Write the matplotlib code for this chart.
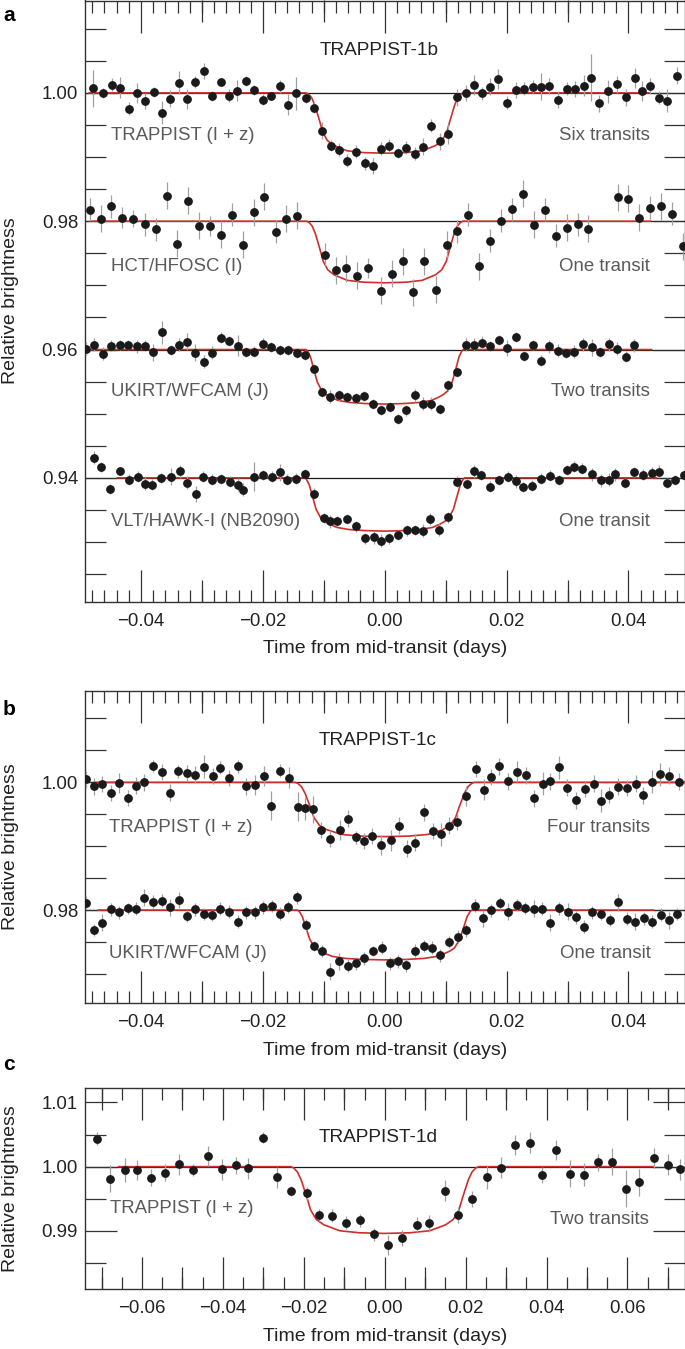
import numpy as np
import matplotlib
matplotlib.use("Agg")
import matplotlib.pyplot as plt
from matplotlib.ticker import MultipleLocator, FuncFormatter

plt.rcParams['font.family'] = ['Liberation Sans', 'DejaVu Sans']

# ---------------- data ----------------
# panel a, TRAPPIST-1b
b_trap_x = [-0.04784, -0.04626, -0.04484, -0.04348, -0.04200, -0.04063, -0.03943, -0.03790, -0.03658, -0.03527,
            -0.03374, -0.03243, -0.03112, -0.02970, -0.02828, -0.02686, -0.02549, -0.02423, -0.02281, -0.02139,
            -0.02003, -0.01861, -0.01713, -0.01582, -0.01451, -0.01298, -0.01156, -0.01025, -0.00883, -0.00752,
            -0.00615, -0.00473, -0.00331, -0.00200, -0.00063, 0.00068, 0.00216, 0.00352, 0.00489, 0.00620,
            0.00757, 0.00899, 0.01046, 0.01194, 0.01331, 0.01467, 0.01593, 0.01730, 0.01861, 0.02008,
            0.02150, 0.02287, 0.02429, 0.02566, 0.02697, 0.02839, 0.02986, 0.03128, 0.03265, 0.03385,
            0.03522, 0.03669, 0.03811, 0.03959, 0.04107, 0.04221, 0.04352, 0.04500, 0.04637, 0.04790]
b_trap_y = [1.00073, 1.00000, 1.00125, 1.00083, 0.99751, 1.00000, 0.99875, 1.00010, 0.99688, 0.99912,
            1.00161, 0.99906, 1.00171, 1.00343, 0.99948, 1.00171, 0.99958, 1.00036, 1.00187, 1.00047,
            0.99896, 0.99948, 1.00104, 0.99818, 0.99995, 0.99922, 0.99771, 0.99413, 0.99179, 0.99117,
            0.98945, 0.99086, 0.98904, 0.98862, 0.99132, 0.99174, 0.99065, 0.99143, 0.99049, 0.99164,
            0.99491, 0.99247, 0.99361, 0.99932, 1.00000, 1.00125, 0.99995, 1.00099, 1.00218, 0.99849,
            1.00047, 1.00062, 1.00099, 1.00099, 1.00109, 0.99896, 1.00062, 1.00062, 1.00114, 1.00239,
            0.99839, 1.00026, 1.00135, 0.99932, 1.00234, 1.00026, 1.00109, 0.99922, 0.99875, 1.00270]
b_trap_err = [2.9, 0.8, 1.0, 1.6, 1.0, 1.6, 1.3, 0.8, 1.8, 1.3, 1.8, 1.6, 1.0, 1.3, 0.8, 0.6, 1.0, 1.6,
              0.8, 0.8, 0.8, 0.6, 1.0, 1.6, 2.6, 0.8, 0.8, 1.3, 0.8, 1.0, 1.0, 1.0, 1.0, 1.3, 1.0, 1.0,
              0.8, 1.0, 1.0, 1.3, 1.0, 1.3, 1.6, 1.3, 1.3, 1.6, 1.0, 1.3, 1.6, 1.0, 1.3, 1.0, 1.0, 2.1,
              1.3, 1.3, 1.0, 1.3, 1.6, 3.6, 1.3, 1.8, 1.3, 1.3, 1.6, 1.6, 1.3, 1.0, 1.8, 1.3]

b_hct_x = [-0.04839, -0.04664, -0.04489, -0.04309, -0.04134, -0.03937, -0.03757, -0.03582, -0.03407, -0.03232,
           -0.03041, -0.02861, -0.02686, -0.02511, -0.02331, -0.02151, -0.01975, -0.01790, -0.01615, -0.01440,
           -0.00975, -0.00806, -0.00631, -0.00456, -0.00281, -0.00063, 0.00117, 0.00292, 0.00462, 0.00637,
           0.00844, 0.01019, 0.01194, 0.01369, 0.01549, 0.01730, 0.01910, 0.02090, 0.02265, 0.02445,
           0.02631, 0.02812, 0.02992, 0.03167, 0.03342, 0.03822, 0.03997, 0.04172, 0.04352, 0.04527,
           0.04718, 0.04888]
b_hct_y = [0.98177, 0.98036, 0.98234, 0.98057, 0.98042, 0.97953, 0.97875, 0.98400, 0.97647, 0.98317,
           0.97932, 0.97922, 0.97787, 0.98099, 0.97631, 0.98140, 0.98379, 0.97834, 0.98036, 0.98083,
           0.97475, 0.97236, 0.97268, 0.97148, 0.97268, 0.96919, 0.97179, 0.97377, 0.96894, 0.97377,
           0.96935, 0.97636, 0.97844, 0.98099, 0.97299, 0.97694, 0.98005, 0.98187, 0.98426, 0.97943,
           0.98177, 0.97777, 0.97901, 0.97953, 0.97886, 0.98374, 0.98348, 0.98057, 0.98208, 0.98234,
           0.98119, 0.97610]
b_hct_err = [1.8, 2.1, 1.8, 1.6, 1.3, 1.8, 1.8, 2.1, 2.1, 2.1, 2.1, 1.6, 2.1, 1.8, 2.1, 2.1, 2.1, 1.8,
             2.1, 2.1, 1.8, 2.1, 2.1, 2.1, 1.6, 2.1, 2.1, 2.1, 2.1, 2.1, 2.1, 2.1, 1.8, 1.8, 2.1, 1.8,
             1.8, 1.8, 2.1, 2.1, 1.8, 1.8, 2.1, 1.8, 2.1, 2.1, 2.1, 2.1, 1.8, 2.1, 1.8, 2.1]

b_ukirt_x = [-0.04910, -0.04773, -0.04631, -0.04489, -0.04352, -0.04216, -0.04074, -0.03943, -0.03801, -0.03658,
             -0.03516, -0.03385, -0.03243, -0.03107, -0.02970, -0.02828, -0.02686, -0.02549, -0.02413, -0.02276,
             -0.02139, -0.01997, -0.01861, -0.01724, -0.01587, -0.01445, -0.01309, -0.01167, -0.01025, -0.00893,
             -0.00751, -0.00615, -0.00478, -0.00342, -0.00200, -0.00058, 0.00079, 0.00216, 0.00352, 0.00489,
             0.00626, 0.00762, 0.00899, 0.01046, 0.01183, 0.01331, 0.01467, 0.01604, 0.01735, 0.01872,
             0.02014, 0.02150, 0.02287, 0.02429, 0.02566, 0.02702, 0.02839, 0.02970, 0.03112, 0.03259,
             0.03402, 0.03533, 0.03675, 0.03811, 0.03953, 0.04090]
b_ukirt_y = [0.96010, 0.96073, 0.95938, 0.96062, 0.96067, 0.96073, 0.96052, 0.96062, 0.95959, 0.96269,
             0.95990, 0.96073, 0.96124, 0.95953, 0.95808, 0.95953, 0.96187, 0.96135, 0.96062, 0.95964,
             0.95969, 0.96093, 0.96036, 0.95995, 0.95990, 0.95943, 0.95912, 0.95694, 0.95342, 0.95264,
             0.95285, 0.95264, 0.95238, 0.95275, 0.95150, 0.95062, 0.95109, 0.94922, 0.95052, 0.95290,
             0.95155, 0.95155, 0.95078, 0.95440, 0.95648, 0.96073, 0.96078, 0.96109, 0.96052, 0.96150,
             0.96026, 0.96197, 0.95896, 0.96073, 0.95829, 0.96052, 0.95984, 0.95943, 0.95969, 0.96083,
             0.96036, 0.95959, 0.96083, 0.96010, 0.95891, 0.96067]
b_ukirt_err = [1.0, 1.0, 1.0, 0.8, 0.8, 0.8, 1.0, 0.8, 1.3, 1.8, 0.8, 1.0, 1.3, 1.3, 1.0, 1.0, 0.8, 0.8,
               1.6, 0.8, 0.8, 0.8, 0.8, 0.8, 0.8, 0.8, 0.8, 0.8, 0.8, 1.0, 0.8, 0.8, 0.8, 0.8, 0.8, 0.8,
               0.8, 0.8, 0.8, 1.0, 1.0, 1.0, 0.8, 0.8, 0.8, 1.0, 1.0, 1.0, 0.8, 0.8, 1.3, 0.8, 0.8, 0.8,
               0.8, 1.0, 1.0, 0.8, 1.0, 1.0, 1.3, 0.8, 1.0, 1.0, 0.8, 1.0]

b_vlt_x = [-0.04773, -0.04653, -0.04505, -0.04352, -0.04199, -0.04052, -0.03937, -0.03822, -0.03669, -0.03516,
           -0.03363, -0.03243, -0.03096, -0.02981, -0.02828, -0.02686, -0.02533, -0.02413, -0.02331, -0.02151,
           -0.01997, -0.01844, -0.01724, -0.01604, -0.01462, -0.01309, -0.01156, -0.01003, -0.00893, -0.00784,
           -0.00620, -0.00478, -0.00325, -0.00178, -0.00058, 0.00068, 0.00210, 0.00363, 0.00500, 0.00626,
           0.00746, 0.00893, 0.01046, 0.01194, 0.01347, 0.01467, 0.01582, 0.01735, 0.01877, 0.02025,
           0.02150, 0.02265, 0.02413, 0.02566, 0.02713, 0.02866, 0.02986, 0.03112, 0.03243, 0.03402,
           0.03544, 0.03675, 0.03784, 0.03943, 0.04090, 0.04243, 0.04380, 0.04505, 0.04626, 0.04768, 0.04910]
b_vlt_y = [0.94316, 0.94171, 0.93824, 0.94104, 0.93974, 0.94021, 0.93907, 0.93896, 0.94000, 0.94021,
           0.94104, 0.93922, 0.93751, 0.94021, 0.93974, 0.93979, 0.93943, 0.93896, 0.93813, 0.94021,
           0.94047, 0.94021, 0.94088, 0.93974, 0.93990, 0.94062, 0.93756, 0.93373, 0.93326, 0.93326,
           0.93358, 0.93244, 0.93057, 0.93073, 0.93021, 0.93057, 0.93114, 0.93181, 0.93192, 0.93176,
           0.93358, 0.93192, 0.93383, 0.93943, 0.93907, 0.94104, 0.94047, 0.93865, 0.93964, 0.94021,
           0.93948, 0.93855, 0.93881, 0.93990, 0.94036, 0.93964, 0.94119, 0.94176, 0.94145, 0.94057,
           0.93959, 0.93969, 0.94057, 0.93917, 0.94088, 0.94052, 0.94083, 0.94093, 0.93917, 0.93969, 0.94047]
b_vlt_err = [1.0, 0.8, 0.8, 0.6, 0.8, 0.8, 1.0, 0.8, 0.8, 1.3, 1.0, 1.0, 1.3, 0.8, 0.8, 0.8, 0.8, 1.0,
             1.0, 2.3, 0.8, 0.8, 1.3, 0.8, 0.8, 0.8, 0.8, 0.8, 1.0, 0.8, 0.8, 0.8, 0.8, 1.0, 1.0, 0.8,
             0.8, 0.8, 0.8, 1.0, 1.0, 1.0, 0.8, 0.8, 0.8, 1.0, 0.8, 0.8, 0.8, 0.8, 1.0, 0.8, 0.8, 0.8,
             0.8, 0.8, 0.8, 0.8, 0.8, 1.0, 1.0, 1.0, 1.0, 0.8, 0.8, 0.8, 0.8, 1.0, 0.8, 0.8, 0.8]

# panel b, TRAPPIST-1c
c_trap_x = [-0.04910, -0.04773, -0.04636, -0.04493, -0.04356, -0.04219, -0.04082, -0.03945, -0.03808, -0.03655,
            -0.03518, -0.03392, -0.03249, -0.03107, -0.02964, -0.02816, -0.02696, -0.02559, -0.02416, -0.02274,
            -0.02132, -0.01978, -0.01868, -0.01726, -0.01573, -0.01425, -0.01304, -0.01178, -0.01041, -0.00893,
            -0.00740, -0.00608, -0.00477, -0.00345, -0.00203, -0.00055, 0.00099, 0.00236, 0.00367, 0.00504,
            0.00641, 0.00784, 0.00921, 0.01052, 0.01189, 0.01326, 0.01490, 0.01622, 0.01748, 0.01874,
            0.02016, 0.02164, 0.02312, 0.02455, 0.02592, 0.02712, 0.02860, 0.02992, 0.03140, 0.03288,
            0.03430, 0.03545, 0.03677, 0.03830, 0.03978, 0.04121, 0.04247, 0.04384, 0.04521, 0.04663, 0.04822]
c_trap_y = [1.00047, 0.99937, 0.99974, 0.99833, 0.99990, 0.99755, 0.99948, 1.00000, 1.00256, 1.00162,
            0.99838, 1.00172, 1.00146, 1.00120, 1.00245, 1.00099, 1.00230, 1.00068, 1.00251, 0.99937,
            0.99958, 1.00099, 0.99634, 1.00183, 1.00073, 0.99619, 0.99598, 0.99577, 0.99253, 0.99117,
            0.99253, 0.99431, 0.99138, 0.99081, 0.99159, 0.99018, 0.99091, 0.99321, 0.98961, 0.99055,
            0.99530, 0.99238, 0.99191, 0.99321, 0.99384, 0.99786, 1.00209, 0.99885, 1.00084, 1.00251,
            1.00016, 1.00167, 1.00110, 0.99749, 0.99979, 1.00016, 1.00235, 0.99916, 0.99718, 0.99896,
            0.99979, 0.99708, 0.99802, 0.99932, 0.99911, 0.99979, 0.99796, 1.00010, 1.00125, 1.00104, 1.00010]
c_trap_err = [1.3, 1.3, 1.3, 1.3, 1.6, 1.3, 1.3, 1.3, 1.0, 1.3, 1.3, 1.0, 1.3, 1.3, 1.8, 1.3, 1.0, 1.3,
              1.0, 1.3, 1.6, 1.6, 2.3, 1.0, 1.6, 2.3, 1.8, 2.1, 1.3, 1.3, 1.6, 1.3, 1.0, 1.3, 1.3, 1.6,
              1.6, 1.3, 1.3, 1.3, 1.3, 1.3, 1.8, 1.3, 1.3, 1.6, 1.3, 1.6, 1.3, 1.3, 1.3, 1.6, 1.3, 1.3,
              1.8, 1.3, 1.8, 1.3, 1.3, 1.3, 1.3, 1.8, 1.3, 1.3, 1.3, 1.3, 1.3, 1.8, 1.8, 1.3, 1.3]

c_ukirt_x = [-0.04904, -0.04767, -0.04636, -0.04493, -0.04356, -0.04219, -0.04082, -0.03945, -0.03808, -0.03655,
             -0.03518, -0.03381, -0.03244, -0.03107, -0.02970, -0.02838, -0.02696, -0.02559, -0.02416, -0.02274,
             -0.02132, -0.01995, -0.01858, -0.01715, -0.01584, -0.01441, -0.01293, -0.01167, -0.01036, -0.00893,
             -0.00751, -0.00608, -0.00477, -0.00334, -0.00192, -0.00049, 0.00082, 0.00219, 0.00356, 0.00493,
             0.00641, 0.00778, 0.00915, 0.01058, 0.01195, 0.01332, 0.01479, 0.01611, 0.01742, 0.01890,
             0.02027, 0.02164, 0.02307, 0.02444, 0.02586, 0.02718, 0.02860, 0.03003, 0.03140, 0.03277,
             0.03408, 0.03545, 0.03693, 0.03830, 0.03973, 0.04110, 0.04252, 0.04389, 0.04532, 0.04663, 0.04800]
c_ukirt_y = [0.98115, 0.97687, 0.97802, 0.98010, 0.97963, 0.98026, 0.98021, 0.98193, 0.98131, 0.98146,
             0.98042, 0.98157, 0.97906, 0.98010, 0.97937, 0.97916, 0.98021, 0.97974, 0.97817, 0.97963,
             0.97963, 0.98042, 0.98063, 0.97943, 0.98047, 0.98198, 0.97765, 0.97441, 0.97358, 0.97034,
             0.97196, 0.97128, 0.97164, 0.97243, 0.97358, 0.97410, 0.97164, 0.97201, 0.97138, 0.97363,
             0.97436, 0.97410, 0.97295, 0.97499, 0.97582, 0.97681, 0.98068, 0.97869, 0.97995, 0.98104,
             0.97974, 0.98078, 0.98031, 0.98021, 0.98021, 0.97802, 0.98026, 0.97974, 0.97885, 0.97739,
             0.97963, 0.97937, 0.97843, 0.98120, 0.97864, 0.97817, 0.97869, 0.97817, 0.97927, 0.97838, 0.97937]
c_ukirt_err = [1.0, 1.0, 1.3, 1.0, 1.0, 0.8, 1.0, 1.3, 1.0, 1.0, 1.3, 1.3, 1.0, 1.0, 1.0, 0.8, 1.0, 1.0,
               1.0, 1.0, 1.0, 1.0, 1.0, 1.0, 1.0, 1.0, 1.0, 0.8, 1.0, 1.3, 1.3, 1.0, 1.0, 1.0, 0.8, 1.0,
               1.0, 1.0, 1.0, 1.0, 1.0, 1.0, 1.0, 1.0, 1.0, 1.0, 1.0, 1.3, 1.0, 1.0, 1.3, 1.0, 1.0, 1.3,
               1.0, 1.3, 1.0, 1.3, 1.0, 1.0, 1.0, 1.0, 1.0, 1.3, 1.0, 1.3, 1.0, 1.0, 1.0, 1.3, 1.0]

# panel c, TRAPPIST-1d
d_trap_x = [-0.07119, -0.06790, -0.06428, -0.06123, -0.05778, -0.05432, -0.05086, -0.04749, -0.04362, -0.04033,
            -0.03687, -0.03374, -0.03004, -0.02675, -0.02321, -0.01934, -0.01630, -0.01292, -0.00947, -0.00601,
            -0.00255, 0.00082, 0.00436, 0.00798, 0.01095, 0.01481, 0.01811, 0.02165, 0.02527, 0.02872,
            0.03210, 0.03588, 0.03893, 0.04239, 0.04584, 0.04922, 0.05267, 0.05621, 0.05967, 0.06280,
            0.06667, 0.07012, 0.07300]
d_trap_y = [1.00436, 0.99808, 0.99948, 0.99948, 0.99829, 0.99907, 1.00036, 0.99948, 1.00166, 0.99958,
            1.00021, 0.99974, 1.00452, 0.99834, 0.99626, 0.99585, 0.99247, 0.99237, 0.99128, 0.99164,
            0.98946, 0.98780, 0.98889, 0.99091, 0.99117, 0.99626, 0.99247, 0.99496, 0.99834, 0.99984,
            1.00337, 1.00374, 0.99870, 1.00260, 0.99886, 0.99875, 1.00067, 1.00078, 0.99657, 0.99756,
            1.00135, 1.00031, 0.99958]
d_trap_err = [1.0, 2.1, 1.8, 1.6, 1.3, 1.3, 1.6, 1.0, 1.6, 1.6, 1.3, 1.6, 0.8, 1.6, 0.8, 1.0, 1.0, 1.0,
              1.0, 1.0, 1.0, 1.6, 1.3, 1.3, 1.3, 1.6, 1.3, 1.3, 1.8, 1.6, 1.6, 1.6, 1.3, 1.6, 2.1, 1.8,
              1.3, 2.1, 2.9, 2.1, 1.6, 1.6, 1.6]

# transit model shapes (fraction of depth vs fraction of half-duration)
prof_t_iz = [0.0, 0.27, 0.48, 0.65, 0.73, 0.79, 0.83, 0.86, 0.89, 0.93, 0.97, 1.0]
prof_f_iz = [1.0, 0.99, 0.96, 0.87, 0.79, 0.65, 0.46, 0.33, 0.20, 0.08, 0.02, 0.0]
prof_t_j = [0.0, 0.25, 0.45, 0.60, 0.69, 0.75, 0.80, 0.86, 0.905, 0.946, 0.98, 1.0]
prof_f_j = [1.0, 0.99, 0.97, 0.93, 0.87, 0.82, 0.76, 0.59, 0.35, 0.13, 0.03, 0.0]

# baseline, depth, half duration, start, end
model_b_trap = (1.00, 0.0094, 0.0129, -0.0485, 0.0435)
model_b_hct = (0.98, 0.0096, 0.0128, -0.0480, 0.0437)
model_b_ukirt = (0.96, 0.0085, 0.0129, -0.0483, 0.0438)
model_b_vlt = (0.94, 0.0083, 0.0131, -0.0439, 0.0446)
model_c_trap = (1.00, 0.0085, 0.0147, -0.0477, 0.0495)
model_c_ukirt = (0.98, 0.0078, 0.0143, -0.0470, 0.0441)
model_d_trap = (1.00, 0.0104, 0.0232, -0.0658, 0.0663)

W, H = 685, 1349
BLACK = '#1a1a1a'
GREY_TXT = '#5a5a5a'
RED = '#cf2e2b'
ERR_C = '#a0a0a0'
FS_LAB = 13.4   # in-plot labels and tick labels
FS_AX = 14      # axis titles


def box(left, top, right, bottom):
    return [left / W, 1 - bottom / H, (right - left) / W, (bottom - top) / H]


def model_curve(params, prof_t, prof_f):
    base, depth, half, x0, x1 = params
    t = np.asarray(prof_t)
    f = np.asarray(prof_f)
    xs = np.concatenate([[x0], -half * t[::-1], half * t[1:], [x1]])
    fs = np.concatenate([[0.0], f[::-1], f[1:], [0.0]])
    return xs, base - depth * fs


def fmt(v, pos):
    s = f"{v:.2f}"
    if s.startswith('-'):
        s = '\u2212' + s[1:]
    return s


def style_axes(ax, xlim, ylim, xmajor, xmid, xminor, ymajor, yminor):
    ax.set_xlim(*xlim)
    ax.set_ylim(*ylim)
    ax.xaxis.set_major_locator(MultipleLocator(xmajor))
    ax.xaxis.set_minor_locator(MultipleLocator(xminor))
    ax.yaxis.set_major_locator(MultipleLocator(ymajor))
    ax.yaxis.set_minor_locator(MultipleLocator(yminor))
    ax.xaxis.set_major_formatter(FuncFormatter(fmt))
    ax.yaxis.set_major_formatter(FuncFormatter(fmt))
    ax.tick_params(which='both', direction='in', top=True, right=True, color='#333333',
                   width=0.9, labelsize=FS_LAB, labelcolor='#222222')
    ax.tick_params(axis='x', which='major', length=23, pad=8)
    ax.tick_params(axis='x', which='minor', length=8.5)
    ax.tick_params(axis='y', which='major', length=23, pad=5)
    ax.tick_params(axis='y', which='minor', length=15)
    for sp in ax.spines.values():
        sp.set_linewidth(1.0)
        sp.set_color('#333333')
    # medium ticks at the odd hundredths
    lo, hi = xlim
    mids = [m for m in np.arange(-0.07, 0.0701, xmid * 2) if lo < m < hi]
    for loc in ('bottom', 'top'):
        sec = ax.secondary_xaxis(loc)
        sec.set_xticks(mids)
        sec.tick_params(direction='in', length=16, width=0.9, color='#333333',
                        labelbottom=False, labeltop=False)
        sec.spines[loc].set_visible(False)
    ax.set_ylabel('Relative brightness', fontsize=FS_AX, color='#222222')
    ax.yaxis.label.set_va('center')
    ax.yaxis.set_label_coords((11 - 85) / 599.5, 0.5)


def draw_series(ax, x, y, err, params, prof):
    base = params[0]
    ax.axhline(base, color=BLACK, lw=0.9, zorder=1)
    mx, my = model_curve(params, *prof)
    ax.plot(mx, my, color=RED, lw=1.2, zorder=2)
    ax.errorbar(x, y, yerr=np.asarray(err) * 1e-3, fmt='o', color=BLACK, ms=5.3,
                ecolor=ERR_C, elinewidth=0.9, capsize=0, zorder=3)


fig = plt.figure(figsize=(W / 100, H / 100), dpi=100)

# ---------------- panel a ----------------
ax_a = fig.add_axes(box(85, 0.5, 684.5, 601.7))
style_axes(ax_a, (-0.0492, 0.0492), (0.9207, 1.0144), 0.02, 0.01, 0.002, 0.02, 0.005)
draw_series(ax_a, b_trap_x, b_trap_y, b_trap_err, model_b_trap, (prof_t_iz, prof_f_iz))
draw_series(ax_a, b_hct_x, b_hct_y, b_hct_err, model_b_hct, (prof_t_iz, prof_f_iz))
draw_series(ax_a, b_ukirt_x, b_ukirt_y, b_ukirt_err, model_b_ukirt, (prof_t_j, prof_f_j))
draw_series(ax_a, b_vlt_x, b_vlt_y, b_vlt_err, model_b_vlt, (prof_t_j, prof_f_j))
ax_a.text(-0.001, 1.0066, 'TRAPPIST-1b', ha='center', va='center', fontsize=13.7, color='#222222')
for lab, rlab, yy in [('TRAPPIST (I + z)', 'Six transits', 0.99335),
                      ('HCT/HFOSC (I)', 'One transit', 0.97290),
                      ('UKIRT/WFCAM (J)', 'Two transits', 0.95340),
                      ('VLT/HAWK-I (NB2090)', 'One transit', 0.93320)]:
    ax_a.text(-0.0450, yy, lab, ha='left', va='center', fontsize=FS_LAB, color=GREY_TXT)
    ax_a.text(0.0435, yy, rlab, ha='right', va='center', fontsize=FS_LAB, color=GREY_TXT)
ax_a.set_xlabel('Time from mid-transit (days)', fontsize=FS_AX, color='#222222')
ax_a.xaxis.label.set_va('center')
ax_a.xaxis.set_label_coords(0.5, -46.6 / 601.2)

# ---------------- panel b ----------------
ax_b = fig.add_axes(box(85, 691, 684.5, 1002.7))
style_axes(ax_b, (-0.0492, 0.0492), (0.9655, 1.0143), 0.02, 0.01, 0.002, 0.02, 0.005)
draw_series(ax_b, c_trap_x, c_trap_y, c_trap_err, model_c_trap, (prof_t_iz, prof_f_iz))
draw_series(ax_b, c_ukirt_x, c_ukirt_y, c_ukirt_err, model_c_ukirt, (prof_t_j, prof_f_j))
ax_b.text(-0.0011, 1.0066, 'TRAPPIST-1c', ha='center', va='center', fontsize=13.7, color='#222222')
for lab, rlab, yy in [('TRAPPIST (I + z)', 'Four transits', 0.99300),
                      ('UKIRT/WFCAM (J)', 'One transit', 0.97321)]:
    ax_b.text(-0.0452, yy, lab, ha='left', va='center', fontsize=FS_LAB, color=GREY_TXT)
    ax_b.text(0.0436, yy, rlab, ha='right', va='center', fontsize=FS_LAB, color=GREY_TXT)
ax_b.set_xlabel('Time from mid-transit (days)', fontsize=FS_AX, color='#222222')
ax_b.xaxis.label.set_va('center')
ax_b.xaxis.set_label_coords(0.5, -48.0 / 311.7)

# ---------------- panel c ----------------
ax_c = fig.add_axes(box(85, 1088.3, 684.5, 1289.3))
style_axes(ax_c, (-0.0741, 0.0741), (0.9809, 1.0122), 0.02, 0.01, 0.005, 0.01, 0.005)
draw_series(ax_c, d_trap_x, d_trap_y, d_trap_err, model_d_trap, (prof_t_iz, prof_f_iz))
ax_c.text(-0.0017, 1.00458, 'TRAPPIST-1d', ha='center', va='center', fontsize=13.7, color='#222222')
ax_c.text(-0.0679, 0.99352, 'TRAPPIST (I + z)', ha='left', va='center', fontsize=FS_LAB, color=GREY_TXT)
ax_c.text(0.0654, 0.99170, 'Two transits', ha='right', va='center', fontsize=FS_LAB, color=GREY_TXT)
ax_c.set_xlabel('Time from mid-transit (days)', fontsize=FS_AX, color='#222222')
ax_c.xaxis.label.set_va('center')
ax_c.xaxis.set_label_coords(0.5, -47.4 / 201.0)

# panel letters
for letter, ytop in [('a', 6), ('b', 700), ('c', 1055)]:
    fig.text(3 / W, 1 - ytop / H, letter, fontsize=15, fontweight='bold', va='top', ha='left')

fig.savefig('out.png', dpi=100)
